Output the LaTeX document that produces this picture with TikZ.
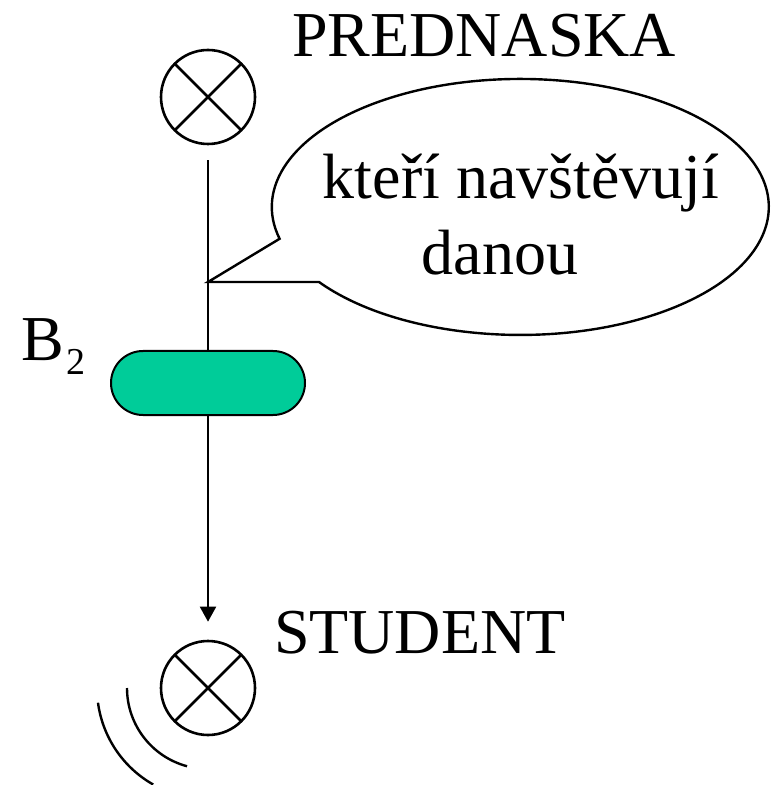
\documentclass[tikz,border=0pt]{standalone}
\usepackage{fontspec}
\setmainfont{Liberation Serif}
\usetikzlibrary{positioning}
\usetikzlibrary{shapes.misc, arrows.meta}

\definecolor{pillgreen}{RGB}{0,204,153}
\tikzset{
  entity/.style={circle,draw,line width=1.3pt,minimum size=47pt,inner sep=0pt,
    path picture={\draw[line width=1.3pt]
      (path picture bounding box.north west) -- (path picture bounding box.south east)
      (path picture bounding box.north east) -- (path picture bounding box.south west);}},
  bigtext/.style={font=\fontsize{32}{38}\selectfont,inner sep=0pt,anchor=base west},
  notetext/.style={font=\fontsize{32}{38}\selectfont,inner sep=0pt,anchor=base}
}

\begin{document}
\begin{tikzpicture}[x=0.5pt,y=0.5pt,line width=1pt]
\useasboundingbox (0,0) rectangle (775,-785);
\node[entity] (P) at (208,-97) {};
\node[entity] (S) at (208,-688) {};
\node[rounded rectangle,draw,fill=pillgreen,minimum width=97pt,minimum height=32pt,inner sep=0pt] (B) at (208,-383) {};
\node[bigtext] (Pname) at (291,-57) {PREDNASKA};
\node[bigtext] (Sname) at (273,-653) {STUDENT};
\node[bigtext] (Bname) at (20,-360)
  {B\kern1.5pt\raisebox{-7pt}{\fontsize{19}{20}\selectfont 2}};

% callout bubble
\coordinate (tip) at (208,-282);
\draw[line width=1.2pt] (tip) -- (319,-282)
  arc[start angle=215.9,end angle=554.4,x radius=248.5,y radius=128] -- cycle;
\node[notetext] (note1) at (521,-199) {kteří navštěvují};
\node[notetext] (note2) at (500,-275) {danou};

\draw[shorten <=7.5pt] (P) -- (B);
\draw[-{Triangle[length=7.5pt,width=8pt]},shorten >=9pt] (B) -- (S);

% waves
\draw[line width=1.2pt] (S.center) ++(187.6:111) arc[start angle=187.6,end angle=240.4,radius=111];
\draw[line width=1.2pt] (S.center) ++(180:81) arc[start angle=180,end angle=255,radius=81];
\end{tikzpicture}
\end{document}
